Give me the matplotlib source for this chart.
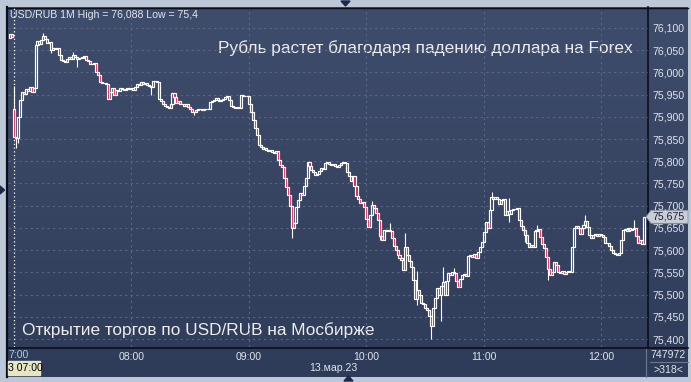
import numpy as np
import matplotlib.pyplot as plt
from matplotlib.patches import Polygon, Rectangle
from matplotlib.colors import LinearSegmentedColormap

plt.rcParams['font.family'] = ['Liberation Sans', 'DejaVu Sans']

# 1-minute USD/RUB candles, minute index 0 = 07:00 (13.03.23)
start_minute = -2
first_open = 76.078
closes = [
    76.086, 76.080,
    75.855, 75.852, 75.900, 75.938, 75.957, 75.952, 75.962, 75.958, 75.968, 75.957,
    75.965, 76.062, 76.070, 76.064, 76.072, 76.082, 76.075, 76.066, 76.068, 76.050,
    76.055, 76.052, 76.056, 76.040, 76.028, 76.025, 76.023, 76.030, 76.034, 76.030,
    76.040, 76.035, 76.030, 76.033, 76.032, 76.034, 76.036, 76.028, 76.025, 76.020,
    76.018, 76.022, 76.000, 75.994, 75.979, 75.977, 75.976, 75.975, 75.940, 75.955,
    75.965, 75.950, 75.960, 75.958, 75.965, 75.962, 75.960, 75.962, 75.966, 75.963,
    75.965, 75.960, 75.968, 75.975, 75.972, 75.978, 75.974, 75.976, 75.972, 75.970,
    75.968, 75.980, 75.980, 75.978, 75.940, 75.935, 75.930, 75.925, 75.922, 75.920,
    75.930, 75.953, 75.945, 75.932, 75.935, 75.930, 75.928, 75.925, 75.930, 75.922,
    75.918, 75.912, 75.910, 75.916, 75.918, 75.917, 75.916, 75.918, 75.917, 75.918,
    75.934, 75.936, 75.938, 75.942, 75.938, 75.935, 75.938, 75.940, 75.944, 75.948,
    75.938, 75.925, 75.922, 75.920, 75.922, 75.921, 75.950, 75.947, 75.948, 75.947,
    75.930, 75.912, 75.893, 75.874, 75.859, 75.837, 75.832, 75.828, 75.830, 75.826,
    75.824, 75.826, 75.822, 75.818, 75.824, 75.803, 75.792, 75.788, 75.762, 75.743,
    75.725, 75.700, 75.650, 75.660, 75.698, 75.712, 75.728, 75.724, 75.745, 75.762,
    75.799, 75.790, 75.780, 75.775, 75.770, 75.772, 75.778, 75.785, 75.782, 75.796,
    75.799, 75.795, 75.792, 75.794, 75.790, 75.788, 75.792, 75.796, 75.799, 75.796,
    75.775, 75.766, 75.755, 75.768, 75.745, 75.722, 75.715, 75.706, 75.708, 75.696,
    75.670, 75.652, 75.679, 75.702, 75.695, 75.683, 75.668, 75.631, 75.622, 75.645,
    75.643, 75.645, 75.642, 75.628, 75.610, 75.600, 75.589, 75.582, 75.578, 75.556,
    75.607, 75.590, 75.575, 75.563, 75.533, 75.490, 75.510, 75.500, 75.480, 75.478,
    75.470, 75.466, 75.451, 75.430, 75.470, 75.492, 75.514, 75.500, 75.520, 75.529,
    75.500, 75.530, 75.548, 75.545, 75.550, 75.548, 75.530, 75.518, 75.535, 75.544,
    75.546, 75.542, 75.586, 75.590, 75.585, 75.592, 75.583, 75.595, 75.607, 75.619,
    75.640, 75.664, 75.650, 75.690, 75.720, 75.715, 75.720, 75.716, 75.703, 75.712,
    75.715, 75.680, 75.688, 75.682, 75.690, 75.693, 75.692, 75.694, 75.668, 75.655,
    75.646, 75.635, 75.616, 75.608, 75.612, 75.608, 75.642, 75.645, 75.648, 75.630,
    75.614, 75.605, 75.585, 75.557, 75.545, 75.550, 75.574, 75.566, 75.550, 75.548,
    75.552, 75.546, 75.550, 75.552, 75.550, 75.608, 75.649, 75.655, 75.650, 75.636,
    75.650, 75.656, 75.665, 75.652, 75.635, 75.628, 75.633, 75.636, 75.632, 75.636,
    75.634, 75.630, 75.617, 75.615, 75.610, 75.600, 75.593, 75.592, 75.590, 75.594,
    75.623, 75.645, 75.648, 75.642, 75.650, 75.645, 75.648, 75.650, 75.632, 75.615,
    75.622, 75.614, 75.675,
]
# opening gaps (minute -> open) and visible wick extremes
open_gaps = {0: 75.917}
wick_highs = {0: 75.970, 15: 76.088, 30: 76.047, 183: 75.711, 192: 75.660, 200: 75.638,
              206: 75.552, 219: 75.563, 225: 75.559, 244: 75.731, 253: 75.717,
              267: 75.657, 292: 75.679, 317: 75.668}
wick_lows = {1: 75.829, 2: 75.841, 19: 76.043, 32: 76.013, 70: 75.949, 92: 75.904,
             142: 75.627, 187: 75.623, 206: 75.477, 213: 75.400, 218: 75.440,
             253: 75.664, 261: 75.619, 273: 75.533}

hour_minutes = [60, 120, 180, 240, 300]
hour_labels = ['08:00', '09:00', '10:00', '11:00', '12:00']
price_levels = [75.40, 75.45, 75.50, 75.55, 75.60, 75.65, 75.70, 75.75, 75.80,
                75.85, 75.90, 75.95, 76.00, 76.05, 76.10]
last_price = 75.675

W, H = 691, 382
fig = plt.figure(figsize=(W / 100, H / 100), dpi=100)
fig.patch.set_facecolor('#bcc8d8')


def box(x0, y0, x1, y1):
    return [x0 / W, 1 - y1 / H, (x1 - x0) / W, (y1 - y0) / H]


# background layer in pixel coordinates
bg = fig.add_axes([0, 0, 1, 1])
bg.set_xlim(0, W)
bg.set_ylim(H, 0)
bg.axis('off')
grad = np.linspace(0, 1, 256)[:, None]
cmap = LinearSegmentedColormap.from_list('bgc', ['#3f4d6c', '#2f3c59'])
bg.imshow(grad, cmap=cmap, extent=[7, 688, 377, 7], aspect='auto', zorder=0)
bg.plot([7.5, 7.5], [7, 377], color='#0a0f1a', lw=1.6, zorder=2)
bg.plot([7, 688], [7.5, 7.5], color='#0a0f1a', lw=1.0, zorder=2)
bg.plot([648.5, 648.5], [7, 347.5], color='#0a0f1a', lw=1.2, zorder=2)
bg.plot([7, 688], [347.5, 347.5], color='#0a0f1a', lw=1.2, zorder=2)
bg.plot([646, 646], [349, 377], color='#6c7890', lw=0.8, zorder=2)
bg.plot([650, 688], [362, 362], color='#6c7890', lw=0.8, zorder=2)
bg.add_patch(Polygon([(341, 1), (350, 1), (345.5, 6)], color='#1c2845', zorder=3))
bg.add_patch(Polygon([(344, 381), (353, 381), (348.5, 376)], color='#1c2845', zorder=3))
bg.add_patch(Polygon([(0, 186), (0, 194), (4.5, 190)], color='#1c2845', zorder=3))

# candles
ax = fig.add_axes(box(8, 8, 648, 347))
ax.set_facecolor('none')
t = np.arange(start_minute, start_minute + len(closes))
c = np.array(closes)
o = np.r_[first_open, c[:-1]]
for m, v in open_gaps.items():
    o[m - start_minute] = v
top = np.maximum(o, c)
bot = np.minimum(o, c)
hi = top.copy()
lo = bot.copy()
for m, v in wick_highs.items():
    hi[m - start_minute] = max(v, top[m - start_minute])
for m, v in wick_lows.items():
    lo[m - start_minute] = min(v, bot[m - start_minute])

for lv in price_levels:
    ax.axhline(lv, color='#5a6784', lw=0.8, dashes=(2, 3), zorder=1)
for hm in hour_minutes:
    ax.axvline(hm, color='#5a6784', lw=0.8, dashes=(2, 3), zorder=1)
ax.axvline(0, color='white', lw=0.9, dashes=(1, 2), zorder=1)

ax.vlines(t, top, hi, color='white', lw=0.8, zorder=2)
ax.vlines(t, lo, bot, color='white', lw=0.8, zorder=2)
up = c >= o
ax.bar(t[up], (top - bot)[up], bottom=bot[up], width=1.05, facecolor='none',
       edgecolor='white', lw=0.85, zorder=3)
ax.bar(t[~up], (top - bot)[~up], bottom=bot[~up], width=1.05, facecolor='#ee1040',
       edgecolor='white', lw=0.85, zorder=3)

ax.set_xlim(-3.07, 323.97)
ax.set_ylim(75.382, 76.145)
for s in ax.spines.values():
    s.set_visible(False)
ax.yaxis.tick_right()
ax.set_yticks(price_levels)
ax.set_yticklabels([f'{v:.3f}'.replace('.', ',') for v in price_levels])
ax.set_xticks(hour_minutes)
ax.set_xticklabels(hour_labels)
ax.tick_params(axis='both', length=0, labelsize=7.6, colors='#dfe3ea')
ax.tick_params(axis='y', pad=3)
ax.tick_params(axis='x', pad=3.5)

# texts
bg.text(10, 15, 'USD/RUB 1M High = 76,088 Low = 75,4', fontsize=7.6, color='#e2e6ee',
        va='center', ha='left', zorder=5)
bg.text(218, 48, 'Рубль растет благодаря падению доллара на Forex', fontsize=12.4,
        color='#ededed', va='center', ha='left', zorder=5)
bg.text(22, 330, 'Открытие торгов по USD/RUB на Мосбирже', fontsize=12.4,
        color='#ededed', va='center', ha='left', zorder=5)
bg.text(8, 355, '7:00', fontsize=7.6, color='#a8ccf0', va='center', ha='left', zorder=5)
bg.add_patch(Rectangle((8, 361), 32, 14, color='#e6e6c4', zorder=4))
bg.text(8, 368, '3 07:00', fontsize=7.6, color='black', va='center', ha='left', zorder=5)
bg.text(333, 368, '13.мар.23', fontsize=7.6, color='#dfe3ea', va='center', ha='center', zorder=5)
bg.text(668, 355, '747972', fontsize=7.6, color='#dfe3ea', va='center', ha='center', zorder=5)
bg.text(668, 370, '>318<', fontsize=7.6, color='#dfe3ea', va='center', ha='center', zorder=5)

# last price marker
py = 28 + (76.1 - last_price) / 0.7 * 311
bg.add_patch(Polygon([(646, py), (651, py - 6.5), (688, py - 6.5), (688, py + 6.5), (651, py + 6.5)],
                     facecolor='#c9ced6', edgecolor='#8a93a3', lw=0.6, zorder=4))
bg.text(669, py, f'{last_price:.3f}'.replace('.', ','), fontsize=7.6, color='#1a2030',
        va='center', ha='center', zorder=5)

fig.savefig('out.png', dpi=100, facecolor=fig.get_facecolor())
